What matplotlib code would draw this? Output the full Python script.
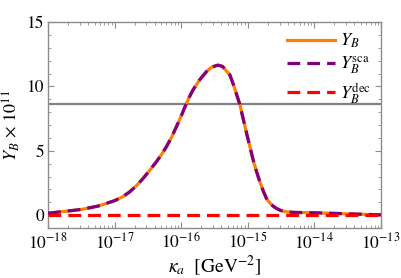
import matplotlib
matplotlib.use("Agg")
import matplotlib.pyplot as plt
from matplotlib.ticker import FixedLocator, MultipleLocator, NullFormatter

plt.rcParams["mathtext.fontset"] = "stix"
plt.rcParams["font.family"] = ["STIXGeneral", "DejaVu Serif"]

# log10(kappa_a / GeV^-2) and Y_B x 10^11
log_kappa = [-18.0, -17.75, -17.5, -17.25, -17.0, -16.88, -16.77, -16.67,
             -16.57, -16.47, -16.37, -16.29, -16.22, -16.14, -16.07, -16.0,
             -15.94, -15.88, -15.82, -15.72, -15.62, -15.54, -15.45, -15.38,
             -15.32, -15.27, -15.22, -15.17, -15.12, -15.07, -15.02, -14.97,
             -14.92, -14.87, -14.82, -14.77, -14.72, -14.67, -14.62, -14.57,
             -14.5, -14.42, -14.3, -14.0, -13.5, -13.0]
y_total = [0.15, 0.29, 0.44, 0.70, 1.12, 1.42, 1.82, 2.30,
           2.86, 3.50, 4.16, 4.75, 5.33, 6.10, 6.89, 7.70,
           8.45, 9.15, 9.75, 10.53, 11.15, 11.50, 11.65, 11.55,
           11.20, 10.90, 10.20, 9.40, 8.60, 7.50, 6.40, 5.35,
           4.30, 3.40, 2.60, 1.90, 1.30, 0.95, 0.70, 0.52,
           0.35, 0.25, 0.21, 0.18, 0.10, 0.02]
y_sca = y_total
y_dec = [0.0] * len(log_kappa)
observed = 8.6

x_exponents = [-18, -17, -16, -15, -14, -13]
x_ticklabels = [r"$10^{%d}$" % e for e in x_exponents]

kappa = [10 ** v for v in log_kappa]

fig = plt.figure(figsize=(4.02, 2.78), dpi=100)
ax = fig.add_axes([48 / 402, 1 - 228 / 278, 333 / 402, 206 / 278])

ax.axhline(observed, color="#808080", lw=1.6, zorder=1)
ax.plot(kappa, y_total, color=(1, 0.5, 0), lw=2.3, label=r"$Y_B$", zorder=2)
ax.plot(kappa, y_sca, color=(0.5, 0, 0.5), lw=2.3, dashes=(4, 2.2),
        label=r"$Y_B^{\rm sca}$", zorder=3)
ax.plot(kappa, y_dec, color=(1, 0, 0), lw=2.3, dashes=(4, 2.2),
        label=r"$Y_B^{\rm dec}$", zorder=4)

ax.set_xscale("log")
ax.set_xlim(1e-18, 1e-13)
ax.set_ylim(-1, 15)
ax.set_xticks([10.0 ** e for e in x_exponents], x_ticklabels)
minor = [m * 10.0 ** e for e in x_exponents[:-1] for m in range(2, 10)]
ax.xaxis.set_minor_locator(FixedLocator(minor))
ax.xaxis.set_minor_formatter(NullFormatter())
ax.yaxis.set_major_locator(MultipleLocator(5))
ax.yaxis.set_minor_locator(MultipleLocator(1))

for s in ax.spines.values():
    s.set_color("#8c8c8c")
    s.set_linewidth(1.0)
ax.tick_params(which="both", direction="in", top=True, right=True,
               color="#8c8c8c", labelsize=12.5, pad=3)
ax.tick_params(which="major", length=4, width=0.8)
ax.tick_params(which="minor", length=2, width=0.6)

ax.set_xlabel(r"$\kappa_a\ \ [\mathrm{GeV}^{-2}]$", fontsize=14, labelpad=1)
ax.set_ylabel(r"$Y_B\, \times\, 10^{11}$", fontsize=13)
ax.yaxis.set_label_coords(-0.078, 0.5)

ax.legend(loc="upper right", frameon=False, fontsize=13, handlelength=2.7,
          labelspacing=0.25, handletextpad=0.25, borderaxespad=0.15)

fig.savefig("out.png", dpi=100)
